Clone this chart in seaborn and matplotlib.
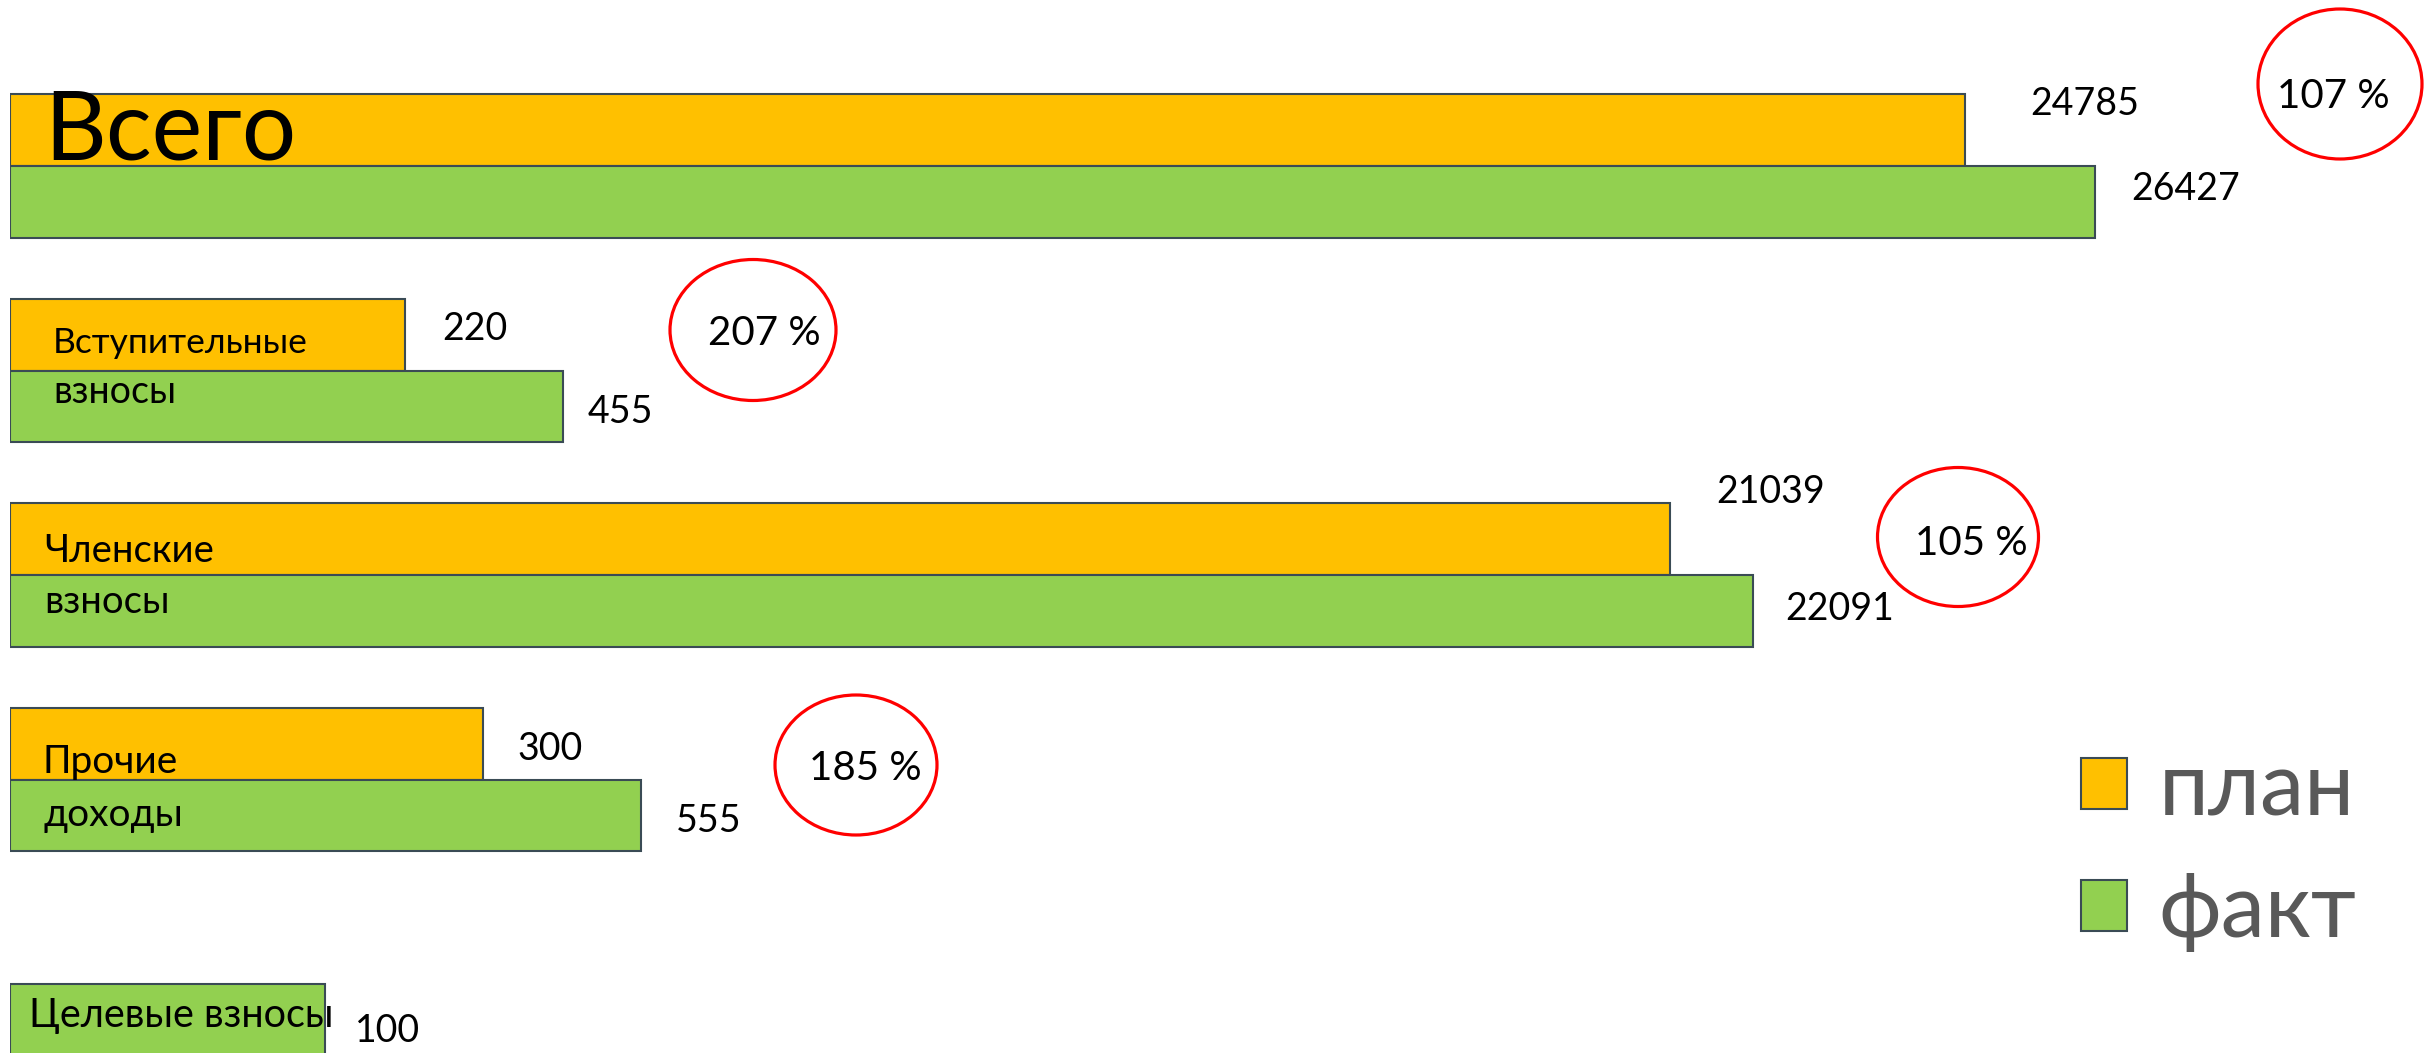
import numpy as np
import pandas as pd
import matplotlib
matplotlib.use("Agg")
import matplotlib.pyplot as plt
from matplotlib.patches import Ellipse
from matplotlib.transforms import IdentityTransform
import seaborn as sns

# ---------------- data ----------------
categories = ["Всего", "Вступительные взносы", "Членские взносы", "Прочие доходы", "Целевые взносы"]
plan = [24785, 220, 21039, 300, np.nan]
fact = [26427, 455, 22091, 555, 100]
percent_labels = ["107 %", "207 %", "105 %", "185 %", None]
series_names = ["план", "факт"]

# ---------------- figure geometry ----------------
W, H = 2428, 1053
DPI = 100

sns.set_theme(style="white")
FONT = ["Lato", "Open Sans", "DejaVu Sans"]
plt.rcParams["font.family"] = FONT

df = pd.DataFrame({
    "cat": categories * 2,
    "series": [series_names[0]] * len(categories) + [series_names[1]] * len(categories),
    "value": list(plan) + list(fact),
})

fig = plt.figure(figsize=(W / DPI, H / DPI), dpi=DPI)
left_px = 10
ax = fig.add_axes([left_px / W, 0, (W - left_px) / W, 1])

# Display scale of the original infographic: small amounts are expanded,
# large amounts are linear.
SCALE_V = [0, 100, 220, 300, 455, 555, 21039, 26427]
SCALE_P = [0, 315, 395, 473, 553, 631, 1660, 2085]
slope = (SCALE_P[-1] - SCALE_P[-2]) / (SCALE_V[-1] - SCALE_V[-2])
SCALE_V = SCALE_V + [200000]
SCALE_P = SCALE_P + [SCALE_P[-1] + (200000 - 26427) * slope]


def fwd(v):
    return np.interp(v, SCALE_V, SCALE_P)


def inv(p):
    return np.interp(p, SCALE_P, SCALE_V)


ax.set_xscale("function", functions=(fwd, inv))

sns.barplot(data=df, y="cat", x="value", hue="series", orient="h",
            palette=["#FFC000", "#92D050"], width=0.704, dodge=True,
            edgecolor="#3A4B55", linewidth=1.5, ax=ax, saturation=1,
            errorbar=None)

xmax = inv(W - left_px)
ax.set_xlim(0, xmax)
spacing = 204.5
c0 = 166
ax.set_ylim((H - c0) / spacing, -c0 / spacing)
ax.set_xticks([])
ax.set_yticks([])
ax.set_xlabel("")
ax.set_ylabel("")
for s in ax.spines.values():
    s.set_visible(False)

# legend
sns.move_legend(ax, loc="center left", bbox_to_anchor=(2081 / W, 1 - 851 / H),
                bbox_transform=fig.transFigure, title=None, frameon=False,
                fontsize=64, handlelength=0.52, handleheight=0.52,
                handletextpad=0.35, labelspacing=0.45, borderpad=0,
                borderaxespad=0, labelcolor="#595959")
for h in ax.get_legend().legend_handles:
    h.set_edgecolor("#3A4B55")
    h.set_linewidth(1.5)

# helpers: pixel coords (top-left origin)
def fx(x):
    return x / W

def fy(y):
    return 1 - y / H

def bar_end_px(v):
    return ax.transData.transform((v, 0))[0]

# category labels inside bars (baseline positions)
cat_texts = [
    ("Всего", 44, 160, 69),
    ("Вступительные", 53, 353, 25.5),
    ("взносы", 53, 403, 27),
    ("Членские", 44, 562, 27.5),
    ("взносы", 44, 613, 27.5),
    ("Прочие", 43, 773, 28),
    ("доходы", 43, 826, 28),
    ("Целевые взносы", 29, 1027, 28.5),
]
for t, x, y, fs in cat_texts:
    fig.text(fx(x), fy(y), t, fontsize=fs, color="black", ha="left", va="baseline")

# value labels: (value, horizontal gap after bar end in px, baseline y)
value_labels = [
    (plan[0], 65, 115), (fact[0], 36, 200),
    (plan[1], 37, 340), (fact[1], 25, 423),
    (plan[2], 46, 503), (fact[2], 32, 620),
    (plan[3], 34, 760), (fact[3], 35, 832),
    (fact[4], 30, 1042),
]
for v, gap, y in value_labels:
    xp = bar_end_px(v) + gap
    fig.text(fx(xp), fy(y), f"{int(v)}", fontsize=27, color="black",
             ha="left", va="baseline")

# percentage circles
circles = [
    (2340, 84, 164, 150, 2333, 108),
    (753, 330, 166, 141, 764, 345),
    (1958, 537, 161, 139, 1971, 555),
    (856, 765, 162, 140, 865, 780),
]
for lab, (cx, cy, w, h, tx, ty) in zip(percent_labels, circles):
    e = Ellipse((cx, H - cy), w, h, transform=IdentityTransform(),
                facecolor="none", edgecolor="#FF0000", linewidth=2.3)
    fig.add_artist(e)
    fig.text(fx(tx), fy(ty), lab, fontsize=29, color="black",
             ha="center", va="baseline")

fig.savefig("out.png", dpi=DPI, facecolor="white")
